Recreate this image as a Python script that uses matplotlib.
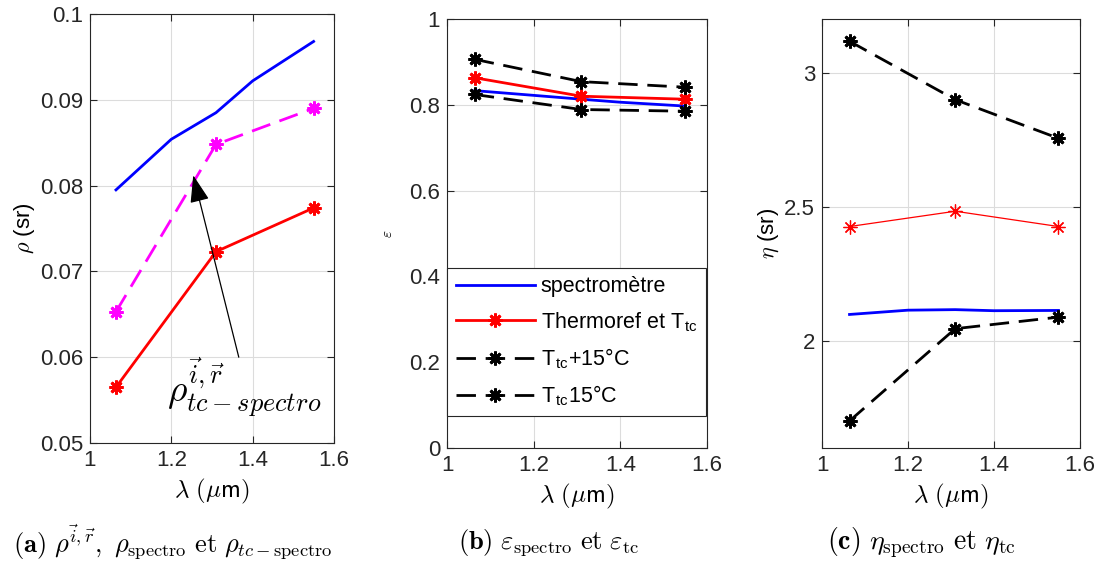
import matplotlib
matplotlib.use('Agg')
import matplotlib.pyplot as plt

plt.rcParams['font.family'] = ['Liberation Sans', 'DejaVu Sans']
plt.rcParams['mathtext.fontset'] = 'cm'

# wavelengths (um)
lam_spec = [1.064, 1.2, 1.31, 1.4, 1.55]
lam_tc = [1.064, 1.31, 1.55]

# (a) rho
rho_spectro = [0.0795, 0.0854, 0.0885, 0.0922, 0.0968]
rho_tc_spectro = [0.0653, 0.0848, 0.0890]
rho_tc = [0.0565, 0.0723, 0.0774]

# (b) epsilon
eps_spectro = [0.833, 0.822, 0.813, 0.806, 0.797]
eps_tc = [0.863, 0.820, 0.813]
eps_plus15 = [0.906, 0.854, 0.841]
eps_minus15 = [0.824, 0.789, 0.785]

# (c) eta
eta_spectro = [2.098, 2.114, 2.116, 2.112, 2.113]
eta_tc = [2.426, 2.483, 2.426]
eta_plus15 = [3.117, 2.899, 2.755]
eta_minus15 = [1.701, 2.045, 2.088]

xticks = [1, 1.2, 1.4, 1.6]
xticklabels = ['1', '1.2', '1.4', '1.6']
yticks_a = [0.05, 0.06, 0.07, 0.08, 0.09, 0.1]
yticklabels_a = ['0.05', '0.06', '0.07', '0.08', '0.09', '0.1']
yticks_b = [0, 0.2, 0.4, 0.6, 0.8, 1]
yticklabels_b = ['0', '0.2', '0.4', '0.6', '0.8', '1']
yticks_c = [2, 2.5, 3]
yticklabels_c = ['2', '2.5', '3']

legend_labels = ['spectromètre', r'Thermoref et T$_\mathregular{tc}$',
                 r'T$_\mathregular{tc}$+15°C', r'T$_\mathregular{tc}$15°C']

captions = [r'$\mathbf{(a)}\ \rho^{\vec{i},\vec{r}},\ \rho_{\mathrm{spectro}}\ \mathrm{et}\ \rho_{tc-\mathrm{spectro}}$',
            r'$\mathbf{(b)}\ \varepsilon_{\mathrm{spectro}}\ \mathrm{et}\ \varepsilon_{\mathrm{tc}}$',
            r'$\mathbf{(c)}\ \eta_{\mathrm{spectro}}\ \mathrm{et}\ \eta_{\mathrm{tc}}$']

AST = (8, 2, 0)
DASH = (7, 3.5)

fig = plt.figure(figsize=(11.01, 5.67), dpi=100)
ax1 = fig.add_axes([0.0817, 0.2187, 0.2216, 0.7566])
ax2 = fig.add_axes([0.4060, 0.2099, 0.2361, 0.7566])
ax3 = fig.add_axes([0.7466, 0.2099, 0.2343, 0.7566])


def style(ax, yticks, yticklabels, ylim):
    ax.set_xlim(1, 1.6)
    ax.set_ylim(*ylim)
    ax.set_xticks(xticks)
    ax.set_xticklabels(xticklabels)
    ax.set_yticks(yticks)
    ax.set_yticklabels(yticklabels)
    ax.grid(True, color='#dcdcdc', lw=0.8)
    ax.set_axisbelow(True)
    ax.tick_params(direction='in', top=True, right=True, length=5,
                   labelsize=16, colors='#262626', width=0.8, pad=5)
    for s in ax.spines.values():
        s.set_color('#262626')
        s.set_linewidth(0.8)
    ax.set_xlabel(r'$\lambda\ (\mu\mathsf{m})$', fontsize=18, labelpad=4)


# (a)
ax1.plot(lam_spec, rho_spectro, color='blue', lw=2)
ax1.plot(lam_tc, rho_tc_spectro, color='magenta', lw=2, dashes=DASH,
         marker=AST, ms=10, mew=2)
ax1.plot(lam_tc, rho_tc, color='red', lw=2, marker=AST, ms=10, mew=2)
style(ax1, yticks_a, yticklabels_a, (0.05, 0.1))
ax1.set_ylabel(r'$\rho$ (sr)', fontsize=16, labelpad=2)
ax1.annotate('', xy=(1.254, 0.0812), xytext=(1.366, 0.0600),
             arrowprops=dict(arrowstyle='-|>,head_length=1.7,head_width=0.6',
                             color='black', lw=0.9, shrinkA=0, shrinkB=0))
ax1.text(1.189, 0.0547, r'$\rho^{\vec{i},\vec{r}}_{tc-spectro}$', fontsize=27,
         ha='left', va='baseline')

# (b)
l1, = ax2.plot(lam_spec, eps_spectro, color='blue', lw=2)
l2, = ax2.plot(lam_tc, eps_tc, color='red', lw=2, marker=AST, ms=10, mew=2)
l3, = ax2.plot(lam_tc, eps_plus15, color='black', lw=2, dashes=DASH,
               marker=AST, ms=10, mew=2)
l4, = ax2.plot(lam_tc, eps_minus15, color='black', lw=2, dashes=DASH,
               marker=AST, ms=10, mew=2)
style(ax2, yticks_b, yticklabels_b, (0, 1))
ax2.set_ylabel(r'$\varepsilon$', fontsize=11, labelpad=10)
leg = ax2.legend([l1, l2, l3, l4], legend_labels, loc='upper left',
                 bbox_to_anchor=(0, 0.078, 0.995, 0.342), mode='expand',
                 fontsize=15.5, handlelength=3.7, handletextpad=0.25,
                 fancybox=False, framealpha=1, edgecolor='#262626',
                 borderaxespad=0, labelspacing=0.58, borderpad=0.4)
leg.get_frame().set_linewidth(0.8)

# (c)
ax3.plot(lam_tc, eta_plus15, color='black', lw=2, dashes=DASH,
         marker=AST, ms=10, mew=2)
ax3.plot(lam_tc, eta_tc, color='red', lw=0.9, marker=AST, ms=10, mew=0.9)
ax3.plot(lam_spec, eta_spectro, color='blue', lw=2)
ax3.plot(lam_tc, eta_minus15, color='black', lw=2, dashes=DASH,
         marker=AST, ms=10, mew=2)
style(ax3, yticks_c, yticklabels_c, (1.6, 3.2))
ax3.set_ylabel(r'$\eta$ (sr)', fontsize=16, labelpad=2)

fig.text(0.0118, 0.043, captions[0], fontsize=19, ha='left', va='center')
fig.text(0.4986, 0.043, captions[1], fontsize=19, ha='center', va='center')
fig.text(0.8365, 0.043, captions[2], fontsize=20, ha='center', va='center')

fig.savefig('out.png', dpi=100)
